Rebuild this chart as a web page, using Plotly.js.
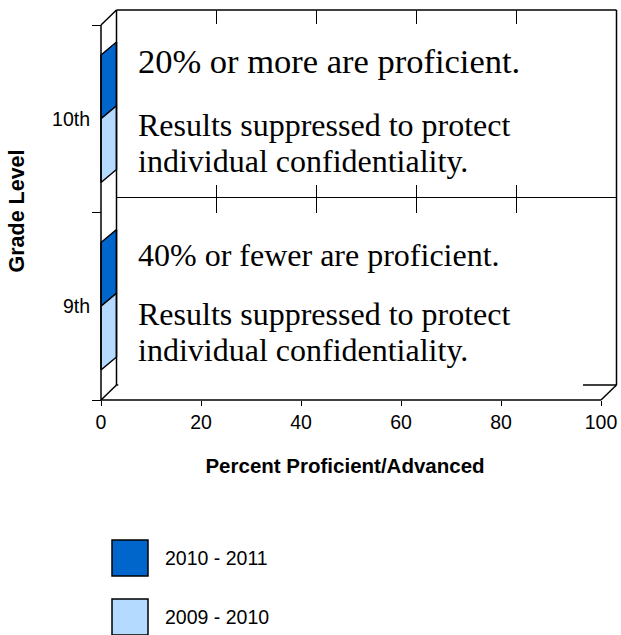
<!DOCTYPE html>
<html><head><meta charset="utf-8">
<script src="https://cdn.plot.ly/plotly-3.0.1.min.js"></script>
<style>html,body{margin:0;padding:0;background:#fff}#chart{width:621px;height:635px}</style>
</head><body><div id="chart"></div>
<script>
// ---- data ----
const categories = ['9th', '10th'];
const seriesNames = ['2010 - 2011', '2009 - 2010'];
const series2011 = [0, 0];   // suppressed results
const series2010 = [0, 0];   // suppressed results
const seriesColors = ['#0066CC', '#B5DAFF'];
const xTickVals = [0, 20, 40, 60, 80, 100];
const proficiencyNotes = ['40% or fewer are proficient.', '20% or more are proficient.'];
const suppressionLines = ['Results suppressed to protect', 'individual confidentiality.'];

// ---- geometry (layout only) ----
const W = 621, H = 635, ML = 71, MR = 2, MT = 8, MB = 221;
const plotW = W - ML - MR, plotH = H - MT - MB;
const PXX = 5, PXY = 187.5;
const FRONT_BOTTOM_PX = 400;
const X0 = (ML - 101) / PXX, X1 = X0 + plotW / PXX;
const Y0 = -0.5 - (H - MB - FRONT_BOTTOM_PX) / PXY, Y1 = Y0 + plotH / PXY;
const DX = 3.1, DY = 15 / PXY, BDY = 13 / PXY, BW = 0.34;
const yPx = p => (FRONT_BOTTOM_PX - p) / PXY - 0.5;   // pixel row -> y data
const xPx = p => (p - 101) / PXX;                      // pixel col -> x data
const pyPaper = p => (MT + plotH - p) / plotH;
const pxPaper = p => (p - ML) / plotW;

// ---- 3D bars ----
const allSeries = [series2011, series2010];
const traces = allSeries.map((vals, s) => {
  const xs = [], ys = [];
  vals.forEach((v, i) => {
    const y0 = s === 0 ? i : i - BW, y1 = y0 + BW;
    if (v > 0) {
      xs.push(0, v, v, 0, 0, null); ys.push(y0, y0, y1, y1, y0, null);
      xs.push(0, v, v + DX, DX, 0, null); ys.push(y1, y1, y1 + BDY, y1 + BDY, y1, null);
    }
    xs.push(v, v, v + DX, v + DX, v, null); ys.push(y0, y1, y1 + BDY, y0 + BDY, y0, null);
  });
  return {
    type: 'scatter', mode: 'lines', name: seriesNames[s], x: xs, y: ys,
    fill: 'toself', fillcolor: seriesColors[s],
    line: {color: '#000', width: 1.5}, hoverinfo: 'skip', showlegend: false
  };
});

// ---- frame, back wall, text panels ----
const shapes = [];
const L = (x0, y0, x1, y1, w) => shapes.push({type: 'line', xref: 'x', yref: 'y', x0, y0, x1, y1, line: {color: '#000', width: w}});
const yb = -0.5, yt = categories.length - 0.5;
xTickVals.slice(1, -1).forEach(v => L(v + DX, yb + DY, v + DX, yt + DY, 1));
for (let i = 0; i < categories.length - 1; i++) L(DX, i + 0.5 + DY, 100 + DX, i + 0.5 + DY, 1);
L(DX, yb + DY, 100 + DX, yb + DY, 1.5);
L(0, yb, 0, yt, 1.5);
L(0, yt, DX, yt + DY, 1.5);
L(DX, yb + DY, DX, yt + DY, 1.5);
L(DX, yt + DY, 100 + DX, yt + DY, 1.5);
L(100 + DX, yt + DY, 100 + DX, yb + DY, 1.5);
L(0, yb, 100, yb, 1.5);
L(0, yb, DX, yb + DY, 1.5);
L(100, yb, 100 + DX, yb + DY, 1.5);
// white text panels
const panelPx = [[213, 388], [24, 185]];
panelPx.forEach(([t, b]) => shapes.push({type: 'rect', xref: 'x', yref: 'y',
  x0: DX + 0.35, x1: xPx(583), y0: yPx(b), y1: yPx(t), fillcolor: '#fff', line: {width: 0}}));

const annotations = [];
const textPx = [[255, 314, 350], [61, 125, 161]];
const headSize = [32, 34.5];
categories.forEach((c, i) => {
  const lines = [proficiencyNotes[i]].concat(suppressionLines);
  lines.forEach((t, k) => annotations.push({
    xref: 'x', yref: 'y', x: xPx(136), y: yPx(textPx[i][k]), text: t, showarrow: false,
    xanchor: 'left', yanchor: 'middle',
    font: {family: 'Liberation Serif, Times New Roman, serif', size: k === 0 ? headSize[i] : 32, color: '#000'}
  }));
});

// ---- legend (custom, large swatches) ----
const legendRows = [558, 617];
seriesNames.forEach((n, s) => {
  shapes.push({type: 'rect', xref: 'paper', yref: 'paper',
    x0: pxPaper(112), x1: pxPaper(148), y0: pyPaper(legendRows[s] + 18), y1: pyPaper(legendRows[s] - 18),
    fillcolor: seriesColors[s], line: {color: '#000', width: 1.5}});
  annotations.push({xref: 'paper', yref: 'paper', x: pxPaper(163), y: pyPaper(legendRows[s]),
    text: n, showarrow: false, xanchor: 'left', yanchor: 'middle',
    font: {family: 'Liberation Sans, Arial, sans-serif', size: 19.5, color: '#000'}});
});

const layout = {
  width: W, height: H, margin: {l: ML, r: MR, t: MT, b: MB, pad: 0},
  paper_bgcolor: '#fff', plot_bgcolor: 'rgba(0,0,0,0)', showlegend: false,
  font: {family: 'Liberation Sans, Arial, sans-serif', size: 19.5, color: '#000'},
  xaxis: {
    range: [X0, X1], tickmode: 'array', tickvals: xTickVals, ticks: 'outside', ticklen: 5,
    tickcolor: '#000', tickwidth: 1, showgrid: false, zeroline: false, showline: false,
    anchor: 'free', position: (H - MB - FRONT_BOTTOM_PX) / plotH, fixedrange: true, ticklabelstandoff: 0,
    tickfont: {size: 19.5},
    title: {text: 'Percent Proficient/Advanced', standoff: 26,
      font: {size: 20.5, weight: 'bold', family: 'Liberation Sans, Arial, sans-serif'}}
  },
  yaxis: {
    range: [Y0, Y1], tickmode: 'array', tickvals: categories.map((c, i) => i), ticktext: categories,
    ticks: '', showgrid: false, zeroline: false, showline: false,
    anchor: 'free', position: (101 - ML) / plotW, fixedrange: true, ticklabelstandoff: 11,
    minor: {tickmode: 'array', tickvals: [-0.5, 0.5, 1.5], ticks: 'outside', ticklen: 9, tickcolor: '#000', tickwidth: 1, showgrid: false},
    tickfont: {size: 19.5},
    title: {text: 'Grade Level', standoff: 20,
      font: {size: 21.5, weight: 'bold', family: 'Liberation Sans, Arial, sans-serif'}}
  },
  shapes, annotations
};
Plotly.newPlot('chart', traces, layout, {displayModeBar: false, staticPlot: true});
</script></body></html>
